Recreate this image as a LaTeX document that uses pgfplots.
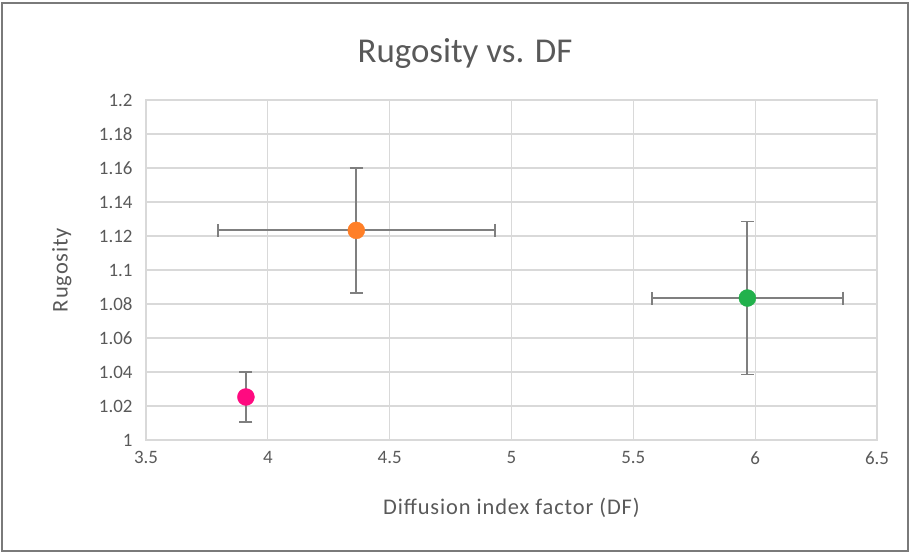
\documentclass[border=0pt]{standalone}
\usepackage{fontspec}
\setmainfont{Carlito}
\newfontfamily\labelfont[LetterSpace=4]{Carlito}
\usepackage{pgfplots}
\pgfplotsset{compat=1.18}
\definecolor{textgray}{HTML}{595959}
\definecolor{gridgray}{HTML}{D9D9D9}
\definecolor{errgray}{HTML}{7F7F7F}
\definecolor{framegray}{HTML}{7A7A7A}
\definecolor{cpink}{HTML}{FF0A80}
\definecolor{corange}{HTML}{FF7F27}
\definecolor{cgreen}{HTML}{22B14C}
\begin{document}
\begin{tikzpicture}
\useasboundingbox (0,0) rectangle (911bp,554bp);
\draw[framegray, line width=2bp] (2bp,3bp) rectangle (908bp,551bp);
\begin{axis}[
  at={(146bp,114bp)}, anchor=south west,
  scale only axis, width=731bp, height=340bp,
  xmin=3.5, xmax=6.5, ymin=1, ymax=1.2,
  xtick={3.5,4,4.5,5,5.5,6,6.5},
  xticklabels={3.5,4,4.5,5,5.5,6,6.5},
  ytick={1,1.02,1.04,1.06,1.08,1.1,1.12,1.14,1.16,1.18,1.2},
  yticklabels={1,1.02,1.04,1.06,1.08,1.1,1.12,1.14,1.16,1.18,1.2},
  grid=major,
  grid style={gridgray, line width=1.3bp},
  axis line style={gridgray, line width=1.3bp},
  major tick length=0pt,
  tick label style={font=\fontsize{19}{19}\selectfont, text=textgray},
  xticklabel style={yshift=-8bp},
  yticklabel style={xshift=-10bp},
  /pgf/number format/assume math mode=true,
  xlabel={Diffusion index factor (DF)},
  ylabel={Rugosity},
  every axis x label/.style={at={(axis description cs:0.5,-0.2)}, anchor=center, font=\labelfont\fontsize{22.5}{22.5}\selectfont, text=textgray},
  every axis y label/.style={at={(axis description cs:-0.1153,0.5)}, rotate=90, anchor=center, font=\labelfont\fontsize{22.5}{22.5}\selectfont, text=textgray},
  title={Rugosity vs. DF},
  title style={font=\fontsize{35}{35}\selectfont, text=textgray, at={(axis description cs:0.4364,1.12)}, anchor=center},
  error bars/y dir=both, error bars/y explicit,
  error bars/x dir=both, error bars/x explicit,
  error bars/error bar style={errgray, line width=1.8bp},
  error bars/error mark options={errgray, line width=1.8bp, mark size=6.5bp, rotate=90},
  clip=false,
]
\addplot[only marks, mark=*, mark size=8.5bp, mark options={draw=cpink, fill=cpink}]
  coordinates {(3.910,1.0253) +- (0.01,0.0145)};
\addplot[only marks, mark=*, mark size=8.5bp, mark options={draw=corange, fill=corange}]
  coordinates {(4.363,1.1233) +- (0.569,0.0367)};
\addplot[only marks, mark=*, mark size=8.5bp, mark options={draw=cgreen, fill=cgreen}]
  coordinates {(5.968,1.0835) +- (0.392,0.0450)};
\end{axis}
\end{tikzpicture}
\end{document}
